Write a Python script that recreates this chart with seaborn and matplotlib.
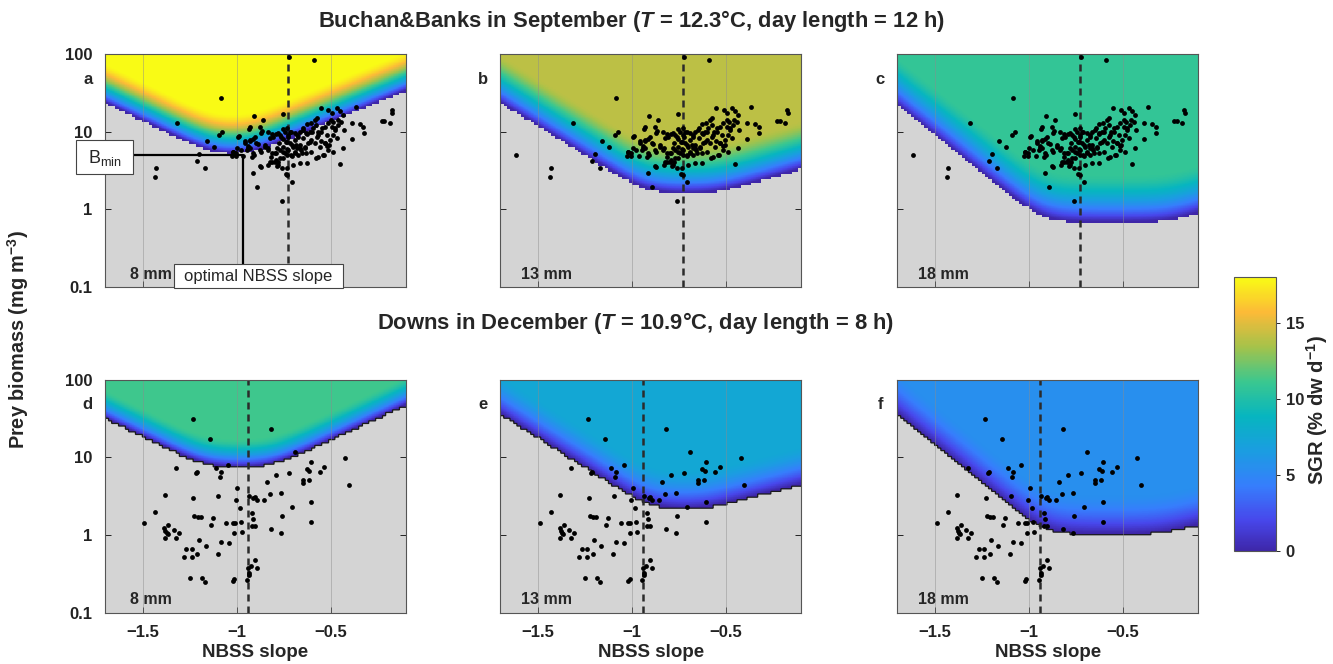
import numpy as np
import pandas as pd
import seaborn as sns
import matplotlib
matplotlib.use("Agg")
import matplotlib.pyplot as plt
from matplotlib.colors import LinearSegmentedColormap, Normalize
from matplotlib.cm import ScalarMappable
from matplotlib.patches import Rectangle

# ---------------- data ----------------
TITLES = [r"Buchan&Banks in September ($T$ = 12.3°C, day length = 12 h)",
          r"Downs in December ($T$ = 10.9°C, day length = 8 h)"]
PANEL_LETTERS = ["a", "b", "c", "d", "e", "f"]
LARVA_SIZES = ["8 mm", "13 mm", "18 mm", "8 mm", "13 mm", "18 mm"]
X_TICKS = [-1.5, -1.0, -0.5]
X_TICKLABELS = ["\u22121.5", "\u22121", "\u22120.5"]
Y_TICKS = [0.1, 1, 10, 100]
Y_TICKLABELS = ["0.1", "1", "10", "100"]
CBAR_TICKS = [0, 5, 10, 15]

# growth-field description per panel (a..f)
SGR_MAX = [18.0, 14.0, 10.8, 11.2, 7.5, 5.5]
B_MIN = [5.1, 1.65, 0.70, 7.6, 2.2, 1.05]
FLAT_LEFT = [-1.12, -0.92, -0.92, -1.16, -0.89, -0.91]
FLAT_RIGHT = [-0.94, -0.55, -0.25, -0.82, -0.62, -0.30]
SLOPE_LEFT = [1.17, 1.50, 1.94, 1.18, 1.52, 1.97]
SLOPE_RIGHT = [0.99, 0.70, 0.80, 1.12, 0.62, 0.60]
BAND_WIDTH = [0.50, 0.60, 0.60, 0.35, 0.48, 0.50]

# observed mean NBSS slope per region (dashed line)
OBS_SLOPE = [-0.73, -0.94]

# annotation in panel a
ANNOT_BMIN = 5.0
ANNOT_OPT = -0.964

# observations Buchan&Banks (NBSS slope, log10 prey biomass)
BB_POINTS = [
    (-1.083, 1.429), (-1.315, 1.108), (-1.076, 0.992), (-1.092, 0.958), (-1.159, 0.876),
    (-1.123, 0.803), (-1.198, 0.717), (-1.212, 0.627), (-1.171, 0.537), (-1.617, 0.700),
    (-1.430, 0.529), (-1.436, 0.421), (-0.721, 1.965), (-0.591, 1.923),
    (-0.753, 1.223), (-0.909, 1.206), (-0.862, 1.150), (-0.368, 1.322), (-0.176, 1.279),
    (-0.172, 1.245), (-0.229, 1.142), (-0.215, 1.137), (-0.185, 1.116),
    (-0.930, 1.064), (-0.935, 1.034), (-0.877, 1.064), (-0.868, 1.009), (-0.987, 0.940),
    (-0.957, 0.884), (-0.930, 0.880), (-0.916, 0.906), (-0.939, 0.820), (-0.930, 0.786),
    (-0.948, 0.764), (-0.997, 0.786), (-1.019, 0.743), (-1.024, 0.687), (-1.006, 0.687),
    (-0.965, 0.691), (-0.921, 0.678), (-0.907, 0.700), (-0.871, 0.743), (-0.886, 0.837),
    (-0.850, 0.829), (-0.823, 0.914), (-0.815, 0.966), (-0.792, 0.974), (-0.832, 0.786),
    (-0.815, 0.721), (-0.770, 0.957), (-0.756, 1.030), (-0.731, 1.043), (-0.717, 1.000),
    (-0.726, 0.936), (-0.753, 0.906), (-0.774, 0.850), (-0.784, 0.786), (-0.797, 0.721),
    (-0.756, 0.743), (-0.735, 0.777), (-0.708, 0.829), (-0.690, 0.893), (-0.678, 0.957),
    (-0.664, 1.000), (-0.646, 1.043), (-0.628, 1.095), (-0.605, 1.107), (-0.584, 1.150),
    (-0.572, 1.180), (-0.554, 1.300), (-0.513, 1.279), (-0.495, 1.236), (-0.469, 1.300),
    (-0.451, 1.266), (-0.437, 1.215), (-0.460, 1.150), (-0.486, 1.129), (-0.495, 1.064),
    (-0.478, 1.022), (-0.469, 0.923), (-0.508, 0.829), (-0.531, 0.850), (-0.554, 0.880),
    (-0.575, 0.936), (-0.602, 1.000), (-0.625, 0.966), (-0.646, 0.914), (-0.664, 0.829),
    (-0.678, 0.786), (-0.690, 0.721), (-0.708, 0.691), (-0.731, 0.700), (-0.753, 0.657),
    (-0.770, 0.666), (-0.792, 0.635), (-0.815, 0.614), (-0.832, 0.571), (-0.761, 0.528),
    (-0.735, 0.528), (-0.738, 0.451), (-0.708, 0.348), (-0.628, 0.593), (-0.580, 0.657),
    (-0.536, 0.700), (-0.518, 0.820), (-0.490, 0.734), (-0.437, 0.794), (-0.451, 0.580),
    (-0.389, 0.906), (-0.389, 1.107), (-0.344, 1.095), (-0.327, 1.064), (-0.323, 0.979),
    (-0.430, 1.022), (-0.522, 0.957), (-0.549, 1.043), (-0.566, 1.000), (-0.611, 0.871),
    (-0.637, 0.786), (-0.655, 0.721), (-0.735, 0.871), (-0.779, 0.614), (-0.788, 0.563),
    (-0.877, 0.563), (-0.916, 0.472), (-0.891, 0.292), (-0.758, 0.108), (-0.731, 0.442),
    (-0.781, 0.979), (-0.763, 0.936), (-0.745, 1.000), (-0.728, 0.958), (-0.710, 1.000),
    (-0.692, 0.979), (-0.674, 0.936), (-0.737, 0.872), (-0.719, 0.850), (-0.701, 0.807),
    (-0.683, 0.829), (-0.666, 0.786), (-0.754, 0.807), (-0.772, 0.765), (-0.790, 0.722),
    (-0.745, 0.722), (-0.728, 0.765), (-0.710, 0.700), (-0.692, 0.743), (-0.674, 0.700),
    (-0.657, 0.765), (-0.639, 0.807), (-0.621, 0.850), (-0.630, 0.979), (-0.612, 1.000),
    (-0.648, 1.022), (-0.595, 1.043), (-0.577, 1.086), (-0.568, 0.958), (-0.550, 1.000),
    (-0.533, 1.065), (-0.515, 1.108), (-0.497, 1.151), (-0.603, 0.893), (-0.586, 0.850),
    (-0.559, 0.807), (-0.533, 0.850), (-0.506, 0.893), (-0.488, 0.958), (-0.479, 1.043),
    (-0.462, 1.086), (-0.444, 1.129), (-0.630, 0.722), (-0.603, 0.743), (-0.816, 0.679),
    (-0.834, 0.765), (-0.852, 0.807), (-0.878, 0.765), (-0.896, 0.850), (-0.914, 0.722),
    (-0.941, 0.786), (-0.958, 0.850), (-0.976, 0.765), (-1.003, 0.722), (-1.020, 0.743),
    (-0.994, 0.936), (-0.932, 0.893), (-0.905, 0.936), (-0.870, 0.979), (-0.834, 1.000),
    (-0.808, 0.936), (-0.799, 0.614), (-0.781, 0.571), (-0.825, 0.614), (-0.870, 0.550),
    (-0.568, 0.679), (-0.541, 0.700), (-0.515, 0.765), (-0.666, 0.593), (-0.701, 0.571),
]

# observations Downs (NBSS slope, log10 prey biomass)
DOWNS_POINTS = [
    (-1.235, 1.497), (-1.141, 1.235), (-0.817, 1.368), (-0.689, 1.076), (-1.044, 0.905),
    (-1.324, 0.866), (-1.217, 0.801), (-1.210, 0.814), (-1.109, 0.862), (-1.084, 0.806),
    (-1.090, 0.750), (-0.627, 0.849), (-0.614, 0.819), (-0.605, 0.943), (-0.559, 0.814),
    (-0.534, 0.879), (-0.423, 0.995), (-0.403, 0.647), (-0.723, 0.797), (-0.793, 0.771),
    (-0.840, 0.681), (-0.650, 0.707), (-0.648, 0.668), (-0.618, 0.711), (-0.996, 0.600),
    (-1.382, 0.514), (-1.230, 0.479), (-1.097, 0.505), (-1.005, 0.453), (-0.935, 0.509),
    (-0.911, 0.471), (-0.893, 0.453), (-0.905, 0.484), (-0.854, 0.453), (-0.822, 0.531),
    (-0.765, 0.544), (-0.985, 0.346), (-0.605, 0.432), (-0.707, 0.359), (-1.432, 0.294),
    (-1.225, 0.239), (-1.207, 0.230), (-1.191, 0.234), (-1.125, 0.226), (-1.139, 0.131),
    (-1.056, 0.153), (-1.021, 0.157), (-1.008, 0.153), (-0.978, 0.174), (-0.918, 0.290),
    (-0.914, 0.213), (-0.919, 0.123), (-0.905, 0.118), (-0.820, 0.075), (-0.758, 0.239),
    (-0.765, 0.032), (-0.604, 0.166), (-1.491, 0.153), (-1.384, 0.088), (-1.379, 0.058),
    (-1.363, 0.131), (-1.372, 0.024), (-1.366, 0.011), (-1.381, -0.032), (-1.333, 0.067),
    (-1.324, -0.036), (-1.306, 0.024), (-1.203, -0.066), (-1.162, -0.144), (-1.083, -0.092),
    (-1.040, -0.105), (-0.973, 0.041), (-1.012, 0.020), (-1.267, -0.182), (-1.239, -0.182),
    (-1.280, -0.277), (-1.239, -0.277), (-1.209, -0.238), (-1.100, -0.238), (-1.248, -0.548),
    (-1.187, -0.548), (-1.168, -0.603), (-1.022, -0.590), (-1.013, -0.560), (-0.948, -0.582),
    (-0.934, -0.509), (-0.941, -0.427), (-0.923, -0.393), (-0.902, -0.324), (-0.893, -0.427),
    (-0.934, -0.492),
]

# parula-like colour anchors
PARULA_ANCHORS = [
    (0.000, (0.2422, 0.1504, 0.6603)),
    (0.111, (0.2803, 0.2782, 0.9221)),
    (0.238, (0.2120, 0.4949, 0.9891)),
    (0.365, (0.1053, 0.6153, 0.8819)),
    (0.492, (0.0252, 0.7111, 0.7505)),
    (0.619, (0.2303, 0.7814, 0.5614)),
    (0.746, (0.6448, 0.7622, 0.2909)),
    (0.873, (0.9872, 0.7308, 0.2187)),
    (1.000, (0.9769, 0.9839, 0.0805)),
]

# ---------------- style ----------------
sns.set_theme(style="ticks")
plt.rcParams.update({
    "font.family": ["Liberation Sans", "DejaVu Sans"],
    "font.weight": "bold",
    "mathtext.fontset": "custom",
    "mathtext.rm": "Liberation Sans:bold",
    "mathtext.bf": "Liberation Sans:bold",
    "mathtext.it": "Liberation Sans:italic:bold",
    "mathtext.sf": "Liberation Sans:weight=normal:style=normal",
    "axes.unicode_minus": True,
})

cmap = LinearSegmentedColormap.from_list("parula", PARULA_ANCHORS, N=256)
norm = Normalize(0, 18)
GRAY = "#d4d4d4"

fig = plt.figure(figsize=(13.33, 6.64), dpi=100)
W_AX, H_AX = 0.2258, 0.3507
LEFTS = [0.0788, 0.3753, 0.6731]
BOTTOMS = [0.5678, 0.0773]

xg = np.linspace(-1.7, -0.1, 481)
lg = np.linspace(-1.0, 2.0, 361)
XG, LG = np.meshgrid(xg, lg)


def boundary(x, i, s=0.06):
    return (np.log10(B_MIN[i])
            + SLOPE_LEFT[i] * s * np.logaddexp(0, (FLAT_LEFT[i] - x) / s)
            + SLOPE_RIGHT[i] * s * np.logaddexp(0, (x - FLAT_RIGHT[i]) / s))


bb = pd.DataFrame(BB_POINTS, columns=["slope", "logb"])
bb["biomass"] = 10 ** bb["logb"]
dw = pd.DataFrame(DOWNS_POINTS, columns=["slope", "logb"])
dw["biomass"] = 10 ** dw["logb"]

axes = []
for i in range(6):
    row, col = divmod(i, 3)
    ax = fig.add_axes([LEFTS[col], BOTTOMS[row], W_AX, H_AX])
    axes.append(ax)
    ax.set_facecolor(GRAY)
    ax.set_yscale("log")

    d = LG - boundary(XG, i)
    t = np.clip(d / BAND_WIDTH[i], 0, 1)
    S = SGR_MAX[i] * (1 - (1 - t) ** 1.6)
    # stair-stepped edge of the feasible region (grid resolution of the model)
    xq = np.round(XG / 0.018) * 0.018
    lq = np.ceil(LG / 0.035) * 0.035
    feasible = (lq - boundary(xq, i)) >= 0
    Sm = np.ma.masked_where(~feasible, S)
    ax.pcolormesh(XG, 10 ** LG, Sm, cmap=cmap, norm=norm, shading="auto",
                  zorder=1, rasterized=True)
    if row == 1:
        ax.contour(XG, 10 ** LG, feasible.astype(float), levels=[0.5],
                   colors="k", linewidths=0.9, zorder=2)

    for xv in X_TICKS:
        ax.axvline(xv, color="#8c8c8c", lw=0.6, alpha=0.55, zorder=3)

    ax.axvline(OBS_SLOPE[row], color="#2b2b2b", lw=1.8,
               ls=(0, (2.8, 2.0)), zorder=4)

    data = bb if row == 0 else dw
    sns.scatterplot(data=data, x="slope", y="biomass", ax=ax, color="black",
                    s=12, linewidth=0, legend=False, zorder=5)

    ax.set_xlim(-1.7, -0.1)
    ax.set_ylim(0.1, 100)
    ax.set_xticks(X_TICKS)
    ax.set_yticks(Y_TICKS)
    ax.minorticks_off()
    ax.set_yticks([], minor=True)
    ax.tick_params(direction="in", length=4, width=0.7, top=True, right=True,
                   labelsize=12, pad=9, colors="#222222")
    if row == 1:
        ax.set_xticklabels(X_TICKLABELS, fontweight="bold")
    else:
        ax.set_xticklabels([])
    if col == 0:
        ax.set_yticklabels(Y_TICKLABELS, fontweight="bold")
    else:
        ax.set_yticklabels([])
    ax.set_xlabel("")
    ax.set_ylabel("")
    for sp in ax.spines.values():
        sp.set_visible(True)
        sp.set_color("#555555")
        sp.set_linewidth(0.8)
        sp.set_zorder(6)

    ax.text(-0.057, 0.893, PANEL_LETTERS[i], transform=ax.transAxes,
            ha="center", va="center", fontsize=12, fontweight="bold")
    ax.text(0.153, 0.055, LARVA_SIZES[i], transform=ax.transAxes,
            ha="center", va="center", fontsize=11.5, fontweight="bold", zorder=7)
    if row == 1:
        ax.text(0.5, -0.17, "NBSS slope", transform=ax.transAxes,
                ha="center", va="center", fontsize=13.5, fontweight="bold")

# annotation in panel a
axa = axes[0]
axa.plot([-1.7, ANNOT_OPT], [ANNOT_BMIN, ANNOT_BMIN], color="black", lw=1.6, zorder=6)
axa.plot([ANNOT_OPT, ANNOT_OPT], [ANNOT_BMIN, 0.1], color="black", lw=1.6, zorder=6)
axa.add_patch(Rectangle((-0.096, 0.485), 0.188, 0.146, transform=axa.transAxes,
                        facecolor="white", edgecolor="#444444", lw=0.8,
                        clip_on=False, zorder=8))
axa.text(-0.002, 0.556, r"B$_{\mathsf{min}}$", transform=axa.transAxes,
         ha="center", va="center", fontsize=13, fontweight="normal", zorder=9)
axa.add_patch(Rectangle((0.229, -0.006), 0.563, 0.105, transform=axa.transAxes,
                        facecolor="white", edgecolor="#444444", lw=0.8,
                        clip_on=False, zorder=8))
axa.text(0.51, 0.046, "optimal NBSS slope", transform=axa.transAxes,
         ha="center", va="center", fontsize=12, fontweight="normal", zorder=9)

# titles and shared labels
fig.text(0.474, 0.968, TITLES[0], ha="center", va="center", fontsize=15.8, fontweight="bold")
fig.text(0.477, 0.514, TITLES[1], ha="center", va="center", fontsize=15.8, fontweight="bold")
fig.text(0.0135, 0.488, r"Prey biomass (mg m$^{-3}$)", rotation=90,
         ha="center", va="center", fontsize=14.3, fontweight="bold")

# colour bar
cax = fig.add_axes([0.926, 0.1702, 0.0313, 0.4122])
cb = fig.colorbar(ScalarMappable(norm=norm, cmap=cmap), cax=cax, ticks=CBAR_TICKS)
cb.outline.set_edgecolor("#555555")
cb.outline.set_linewidth(0.8)
cax.tick_params(labelsize=12, length=3, width=0.7, direction="out", pad=4)
for lab in cax.get_yticklabels():
    lab.set_fontweight("bold")
fig.text(0.988, 0.3825, r"SGR (% dw d$^{-1}$)", rotation=90,
         ha="center", va="center", fontsize=14.5, fontweight="bold")

fig.savefig("out.png", dpi=100)
